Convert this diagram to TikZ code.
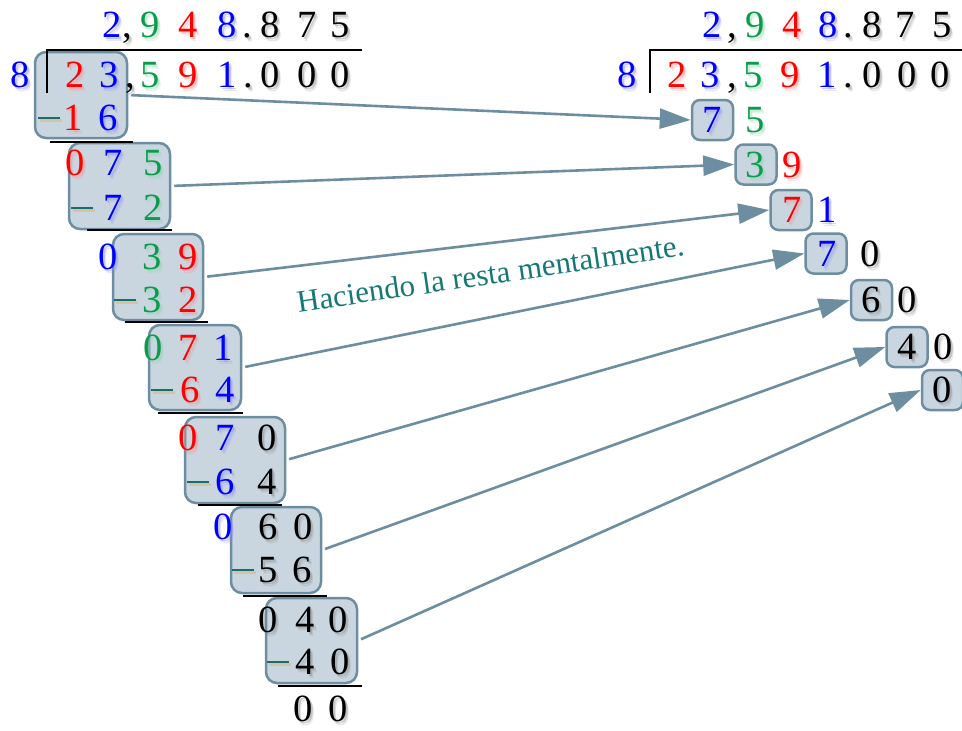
\documentclass[tikz,border=0pt]{standalone}
\usepackage{fontspec}
\setmainfont{Liberation Serif}
\usetikzlibrary{arrows.meta}

\definecolor{dgreen}{RGB}{10,155,75}
\definecolor{boxfill}{RGB}{201,214,224}
\definecolor{boxline}{RGB}{108,142,160}
\definecolor{arrowc}{RGB}{108,142,160}
\definecolor{noteteal}{RGB}{22,120,118}
\definecolor{minusteal}{RGB}{20,110,110}
\definecolor{minustan}{RGB}{215,195,160}

% a digit with a soft drop shadow: name, x, y, colour, character
\newcommand\dg[5]{%
  \node[digit,text=#4!45!white,opacity=.40,xshift=2.2pt,yshift=-2.2pt] (#1s) at (#2,#3) {#5};
  \node[digit,text=#4!45!white,opacity=.22,xshift=3.6pt,yshift=-3.6pt] (#1t) at (#2,#3) {#5};
  \node[digit,text=#4] (#1) at (#2,#3) {#5};}
% a row of digits: name prefix, y, list of x/colour/character
\newcommand\digitrow[3]{\foreach \x/\c/\t [count=\i] in {#3} {\dg{#1\i}{\x}{#2}{\c}{\t}}}
% the minus sign of a subtraction: name, x, y
\newcommand\mn[3]{%
  \node[minusbar,fill=minustan] (#1s) at (#2+1.5,#3+2.2) {};
  \node[minusbar,fill=minusteal] (#1) at (#2,#3) {};}

\begin{document}
\begin{tikzpicture}[x=1pt,y=-1pt,
  digit/.style={inner sep=0pt,text height=25.5pt,text depth=0pt,font=\fontsize{38.5}{42}\selectfont},
  bigbox/.style={draw=boxline,fill=boxfill,line width=2.5pt,rounded corners=11pt,inner sep=0pt},
  smallbox/.style={bigbox,rounded corners=8pt,minimum width=41pt,minimum height=40pt},
  minusbar/.style={inner sep=0pt,minimum width=22pt,minimum height=2.8pt,draw=none},
  rule/.style={line width=2.5pt,black},
  conn/.style={draw=arrowc,line width=2.6pt,shorten <=3pt,-{Triangle[length=31pt,width=20pt]}},
  note/.style={text=noteteal,font=\fontsize{31}{34}\selectfont,rotate=8.35,anchor=base,inner sep=0pt}]
\useasboundingbox (0,0) rectangle (962,731);

% ---- boxes around each partial subtraction (left) ----
\node[bigbox,minimum width=92pt,minimum height=86pt]  (B1) at (81,95) {};
\node[bigbox,minimum width=101pt,minimum height=86pt] (B2) at (119.5,186) {};
\node[bigbox,minimum width=90pt,minimum height=86pt]  (B3) at (158,277) {};
\node[bigbox,minimum width=92pt,minimum height=85pt]  (B4) at (195,367.5) {};
\node[bigbox,minimum width=100pt,minimum height=86pt] (B5) at (235,460) {};
\node[bigbox,minimum width=90pt,minimum height=86pt]  (B6) at (276,550) {};
\node[bigbox,minimum width=91pt,minimum height=85pt]  (B7) at (311.5,640.5) {};

% ---- boxes around each remainder (right) ----
\node[smallbox] (R1) at (712.5,120) {};
\node[smallbox] (R2) at (756,164.5) {};
\node[smallbox] (R3) at (791,210) {};
\node[smallbox] (R4) at (826,253.5) {};
\node[smallbox] (R5) at (871.5,300) {};
\node[smallbox] (R6) at (907,347) {};
\node[smallbox] (R7) at (942.5,390) {};

% ---- division brackets and subtraction rules ----
\draw[rule] (47,93) -- (47,50) -- (362,50);
\draw[rule] (650,93) -- (650,50) -- (962,50);
\draw[rule] (50,142) -- (133,142);
\draw[rule] (87,230) -- (172,230);
\draw[rule] (125,322) -- (208,322);
\draw[rule] (158,413) -- (243,413);
\draw[rule] (198,505) -- (282,505);
\draw[rule] (243,596) -- (327,596);
\draw[rule] (278,686) -- (362,686);

% ---- left: full long division ----
\digitrow{lq}{25}{112/blue/2,127/black/{,},150/dgreen/9,188/red/4,227/blue/8,247/black/.,270/black/8,307/black/7,340/black/5}
\dg{ldv}{20}{75}{blue}{8}
\digitrow{ld}{75}{75/red/2,109/blue/3,130/black/{,},150/dgreen/5,188/red/9,227/blue/1,248/black/.,270/black/0,307/black/0,340/black/0}

\mn{m1}{49}{118}
\digitrow{la}{118}{73/red/1,108/blue/6}
\digitrow{lb}{163}{75/red/0,113/blue/7,153/dgreen/5}
\mn{m2}{82}{208}
\digitrow{lc}{208}{113/blue/7,153/dgreen/2}
\digitrow{le}{257}{108/blue/0,152/dgreen/3,188/red/9}
\mn{m3}{125}{300}
\digitrow{lf}{300}{152/dgreen/3,188/red/2}
\digitrow{lg}{348}{153/dgreen/0,188/red/7,223/blue/1}
\mn{m4}{162}{390}
\digitrow{lh}{390}{190/red/6,225/blue/4}
\digitrow{lj}{438}{188/red/0,225/blue/7,267/black/0}
\mn{m5}{198}{482}
\digitrow{lk}{482}{225/blue/6,267/black/4}
\digitrow{ll}{527}{223/blue/0,268/black/6,303/black/0}
\mn{m6}{243}{570}
\digitrow{lm}{570}{268/black/5,302/black/6}
\digitrow{ln}{620}{268/black/0,305/black/4,338/black/0}
\mn{m7}{278}{662}
\digitrow{lo}{662}{305/black/4,340/black/0}
\digitrow{lp}{709}{303/black/0,338/black/0}

% ---- right: short division, remainders only ----
\digitrow{rq}{25}{712/blue/2,732/black/{,},755/dgreen/9,792/red/4,828/blue/8,848/black/.,872/black/8,905/black/7,942/black/5}
\dg{rdv}{627}{75}{blue}{8}
\digitrow{rd}{75}{677/red/2,710/blue/3,732/black/{,},753/dgreen/5,790/red/9,827/blue/1,848/black/.,872/black/0,907/black/0,940/black/0}
\digitrow{ra}{120}{712/blue/7,755/dgreen/5}
\digitrow{rb}{165}{755/dgreen/3,792/red/9}
\digitrow{rc}{210}{792/red/7,827/blue/1}
\digitrow{re}{254}{827/blue/7,870/black/0}
\digitrow{rf}{300}{871/black/6,907/black/0}
\digitrow{rg}{347}{907/black/4,943/black/0}
\digitrow{rh}{390}{942/black/0}

% ---- each partial subtraction gives a remainder ----
\draw[conn] (B1.east) -- (R1.west);
\draw[conn] (B2.east) -- (R2.west);
\draw[conn] (B3.east) -- (R3.west);
\draw[conn] (B4.east) -- (R4.west);
\draw[conn] (B5.east) -- (R5.west);
\draw[conn] (B6.east) -- (R6.west);
\draw[conn] (B7.east) -- (R7.west);

\node[note] (note) at (492,284) {Haciendo la resta mentalmente.};
\end{tikzpicture}
\end{document}
